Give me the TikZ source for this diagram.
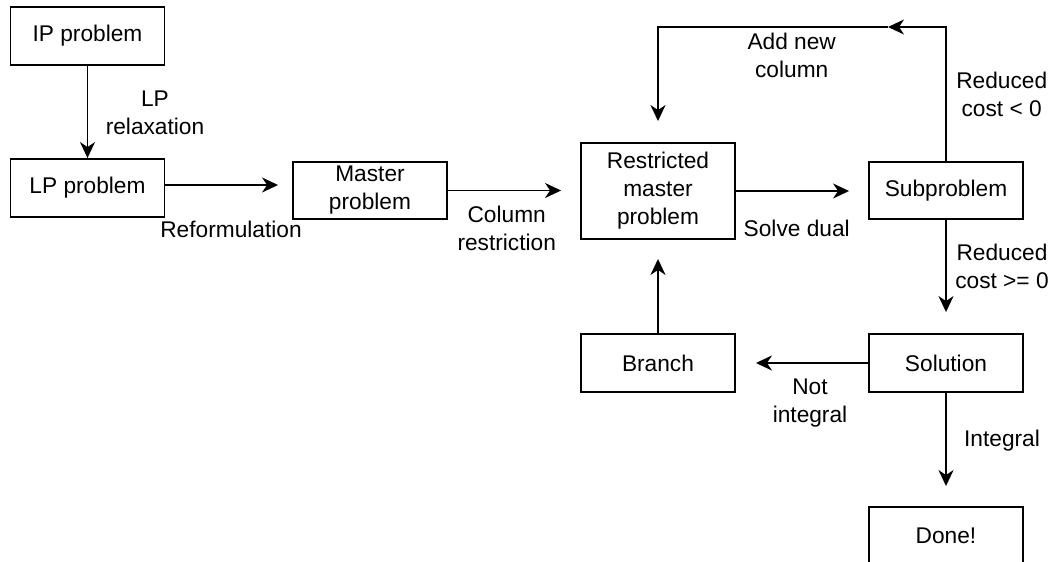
\documentclass[tikz,border=0pt]{standalone}
\usepackage{fontspec}
\setmainfont{Liberation Sans}
\usetikzlibrary{arrows.meta}
\begin{document}
\begin{tikzpicture}[x=1pt,y=-1pt,
  txt/.style={font=\fontsize{22.7}{28}\selectfont},
  box/.style={txt, draw, line width=1.9pt, minimum width=154pt, minimum height=58pt,
              inner sep=0pt, align=center},
  lbl/.style={txt, inner sep=0pt, align=center},
  flow/.style={line width=1.9pt, -{Stealth[length=16pt,width=15pt,inset=5pt]}},
]
\path[use as bounding box] (0,0) rectangle (1055,562);
\clip (0,0) rectangle (1055,562);

% process boxes
\node[box] (ip) at (87.5,36) {IP problem};
\node[box] (lp) at (87.5,188) {LP problem};
\node[box, minimum height=57pt] (master) at (370,190.5) {Master\\problem};
\node[box, minimum height=96pt] (rmp) at (658,191) {Restricted\\master\\problem};
\node[box, minimum height=57pt] (sub) at (946,190.5) {Subproblem};
\node[box] (sol) at (946,363) {Solution};
\node[box] (branch) at (658,363) {Branch};
\node[box] (done) at (946,536) {Done!};

% connectors
\draw[flow] (ip) -- (lp);
\draw[flow, shorten >=14pt] ([yshift=3pt]lp.east) -- ([yshift=5.5pt]master.west);
\draw[flow, shorten >=19pt] (master.east) -- (master.east -| rmp.west);
\draw[flow, shorten >=19pt] (rmp.east) -- (rmp.east -| sub.west);
\coordinate (turn) at (888,27);
\draw[flow] (sub.north) |- (turn);
\draw[flow, shorten >=21pt] (turn) -| (rmp.north);
\draw[flow, shorten >=21pt] (sub) -- (sol);
\draw[flow, shorten >=20pt] (sol) -- (branch);
\draw[flow, shorten >=19pt] (branch) -- (rmp);
\draw[flow, shorten >=20pt] (sol) -- (done);

% connector labels
\node[lbl] (lrelax) at (155,113) {LP\\relaxation};
\node[lbl, anchor=base] (lreform) at (231,237) {Reformulation};
\node[lbl] (lcolres) at (506.7,228) {Column\\restriction};
\node[lbl] (laddcol) at (791.7,55.8) {Add new\\column};
\node[lbl] (lneg) at (1001.7,94.2) {Reduced\\cost < 0};
\node[lbl, anchor=base] (ldual) at (796.7,236.7) {Solve dual};
\node[lbl] (lpos) at (1002,266.7) {Reduced\\cost >= 0};
\node[lbl] (lnotint) at (810,403.2) {Not\\integral};
\node[lbl, anchor=base] (lint) at (1002,446.7) {Integral};
\end{tikzpicture}
\end{document}
